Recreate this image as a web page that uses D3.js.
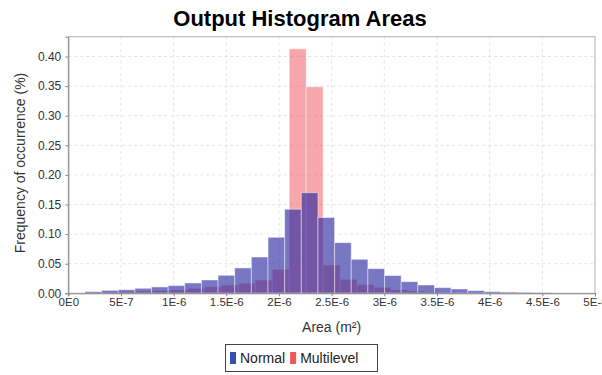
<!DOCTYPE html>
<html><head><meta charset="utf-8">
<script src="https://cdn.jsdelivr.net/npm/d3@7"></script>
<style>body{margin:0;background:#fff}svg{display:block}</style>
</head><body>
<script>
// ---- data ----
const title = "Output Histogram Areas";
const seriesNames = ["Normal", "Multilevel"];
const normalStart = 1.58e-7, normalWidth = 1.58e-7;
const normalValues = [0.0028,0.005,0.006,0.0084,0.0107,0.013,0.0174,0.0225,0.0304,0.0428,0.0613,0.0946,0.142,0.170,0.128,0.0855,0.0574,0.0416,0.030,0.0196,0.014,0.0095,0.0073,0.0045,0.0028,0.002,0.0015,0.001];
const multiStart = 1.65e-7, multiWidth = 1.61e-7;
const multiValues = [0.001,0.002,0.003,0.004,0.0048,0.0058,0.0084,0.0113,0.014,0.017,0.0225,0.0405,0.413,0.349,0.0478,0.0236,0.0145,0.010,0.006,0.004,0.0025,0.0015,0.001];
const xTicks = [0,5e-7,1e-6,1.5e-6,2e-6,2.5e-6,3e-6,3.5e-6,4e-6,4.5e-6,5e-6];
const xTickLabels = ["0E0","5E-7","1E-6","1.5E-6","2E-6","2.5E-6","3E-6","3.5E-6","4E-6","4.5E-6","5E-6"];
const yTicks = [0,0.05,0.10,0.15,0.20,0.25,0.30,0.35,0.40];
const yMax = 0.4335;

// ---- layout ----
const W = 602, H = 375;
const m = {left: 68.3, right: 595, top: 36.7, bottom: 293.3};
const font = "'Liberation Sans', Arial, sans-serif";
const svg = d3.select("body").append("svg").attr("width", W).attr("height", H);

const x = d3.scaleLinear().domain([0, 5e-6]).range([m.left, m.right]);
const y = d3.scaleLinear().domain([0, yMax]).range([m.bottom, m.top]);

// title
svg.append("text").attr("x", 300).attr("y", 26).attr("text-anchor", "middle")
  .attr("font-family", font).attr("font-weight", "bold").attr("font-size", 22)
  .attr("fill", "#000").text(title);

// grid
const g = svg.append("g");
g.selectAll(".gx").data(xTicks.slice(1, -1)).enter().append("line")
  .attr("x1", d => x(d)).attr("x2", d => x(d)).attr("y1", m.top).attr("y2", m.bottom)
  .attr("stroke", "#e4e4e4").attr("stroke-dasharray", "3,3");
g.selectAll(".gy").data(yTicks.slice(1)).enter().append("line")
  .attr("x1", m.left).attr("x2", m.right).attr("y1", d => y(d)).attr("y2", d => y(d))
  .attr("stroke", "#e4e4e4").attr("stroke-dasharray", "3,3");

// bars
const multiData = multiValues.map((v, i) => ({x0: multiStart + i * multiWidth, x1: multiStart + (i + 1) * multiWidth, v}));
const normalData = normalValues.map((v, i) => ({x0: normalStart + i * normalWidth, x1: normalStart + (i + 1) * normalWidth, v}));

function drawBars(data, fill, op) {
  svg.append("g").selectAll("rect").data(data).enter().append("rect")
    .attr("x", d => x(d.x0)).attr("width", d => x(d.x1) - x(d.x0))
    .attr("y", d => y(d.v)).attr("height", d => y(0) - y(d.v))
    .attr("fill", fill).attr("fill-opacity", op)
    .attr("stroke", "#ffffff").attr("stroke-opacity", 0.45).attr("stroke-width", 1);
}
drawBars(multiData, "rgb(240,80,85)", 0.5);
drawBars(normalData, "rgb(35,35,160)", 0.62);

// plot border
svg.append("rect").attr("x", m.left).attr("y", m.top)
  .attr("width", m.right - m.left).attr("height", m.bottom - m.top)
  .attr("fill", "none").attr("stroke", "#b0b0b0").attr("stroke-width", 1);

// axes
const xAxis = d3.axisBottom(x).tickValues(xTicks).tickFormat((d, i) => xTickLabels[i]).tickSize(3).tickPadding(2);
const gx = svg.append("g").attr("transform", `translate(0,${m.bottom})`).call(xAxis);
gx.select(".domain").attr("stroke", "#888");
gx.selectAll(".tick line").attr("stroke", "#888");
gx.selectAll("text").attr("font-family", font).attr("font-size", 11.5).attr("fill", "#333");

const yAxis = d3.axisLeft(y).tickValues(yTicks).tickFormat(d3.format(".2f")).tickSize(3).tickPadding(4);
const gy = svg.append("g").attr("transform", `translate(${m.left},0)`).call(yAxis);
gy.select(".domain").attr("stroke", "#888");
gy.selectAll(".tick line").attr("stroke", "#888");
gy.selectAll("text").attr("font-family", font).attr("font-size", 12).attr("fill", "#333");

// axis labels
svg.append("text").attr("x", (m.left + m.right) / 2).attr("y", 332).attr("text-anchor", "middle")
  .attr("font-family", font).attr("font-size", 14).attr("fill", "#333").text("Area (m²)");
svg.append("text").attr("transform", `translate(25,${(m.top + m.bottom) / 2 - 2}) rotate(-90)`)
  .attr("text-anchor", "middle").attr("font-family", font).attr("font-size", 14).attr("fill", "#333")
  .text("Frequency of occurrence (%)");

// legend
const legendColors = ["#3451b2", "#f25858"];
const lg = svg.append("g");
lg.append("rect").attr("x", 225.5).attr("y", 344.5).attr("width", 152).attr("height", 27)
  .attr("fill", "#fff").attr("stroke", "#444");
let lx = 230;
seriesNames.forEach((n, i) => {
  lg.append("rect").attr("x", lx).attr("y", 352).attr("width", 6).attr("height", 12).attr("fill", legendColors[i]);
  const t = lg.append("text").attr("x", lx + 10).attr("y", 363).attr("font-family", font)
    .attr("font-size", 14).attr("fill", "#222").text(n);
  lx += 10 + t.node().getComputedTextLength() + 5;
});
</script>
</body></html>
